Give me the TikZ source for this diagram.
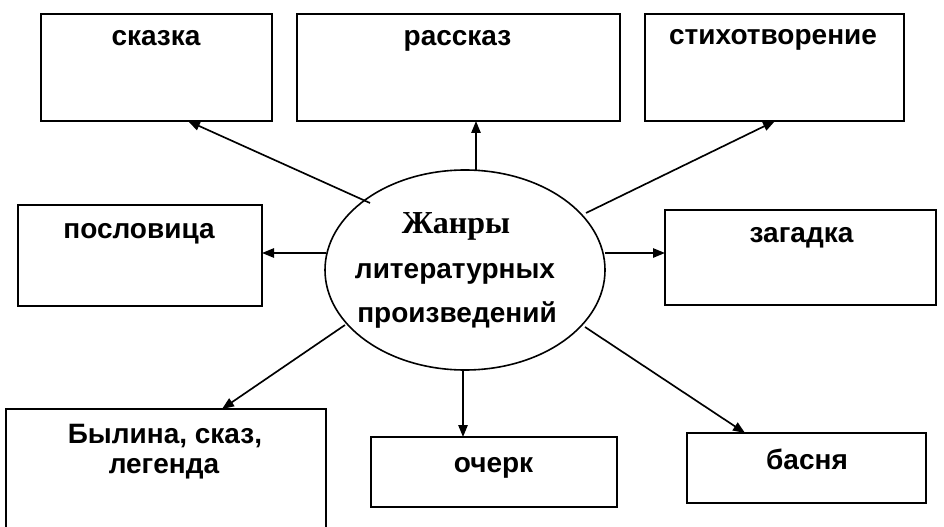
\documentclass[tikz,border=0pt]{standalone}
\usepackage{fontspec}
\setmainfont{Liberation Serif}
\newfontfamily\arialf{Liberation Sans}
\usetikzlibrary{arrows.meta}
\tikzset{
  genrebox/.style={draw=black, line width=1.8pt, rectangle, inner sep=0pt},
  genretext/.style={font=\arialf\bfseries\fontsize{21}{23.5}\selectfont, anchor=base, inner sep=0pt},
  conn/.style={draw=black, line width=1.25pt, -{Triangle[length=9pt,width=7pt]}},
}
\begin{document}
\begin{tikzpicture}[x=0.75pt,y=-0.75pt]
\useasboundingbox (0,0) rectangle (944,527);
\fill[white] (0,0) rectangle (944,527);
% boxes
\node[genrebox, minimum width=231*0.75pt, minimum height=107*0.75pt] (skazka) at (156.5,67.5) {};
\node[genrebox, minimum width=323*0.75pt, minimum height=107*0.75pt] (rasskaz) at (458.5,67.5) {};
\node[genrebox, minimum width=259*0.75pt, minimum height=107*0.75pt] (stikh) at (774.5,67.5) {};
\node[genrebox, minimum width=244*0.75pt, minimum height=101*0.75pt] (posl) at (140,255.5) {};
\node[genrebox, minimum width=271*0.75pt, minimum height=95*0.75pt] (zagad) at (800.5,257.5) {};
\node[genrebox, minimum width=320*0.75pt, minimum height=124*0.75pt] (bylina) at (166,471) {};
\node[genrebox, minimum width=246*0.75pt, minimum height=70*0.75pt] (ocherk) at (494,472) {};
\node[genrebox, minimum width=239*0.75pt, minimum height=70*0.75pt] (basnya) at (806.5,468) {};
% texts
\node[genretext] (skazkaT) at (156,45.5) {сказка};
\node[genretext] (rasskazT) at (457.5,46) {рассказ};
\node[genretext] (stikhT) at (773,45) {стихотворение};
\node[genretext] (poslT) at (139,238) {пословица};
\node[genretext] (zagadT) at (801.5,242) {загадка};
\node[genretext] (bylinaT1) at (165,443) {Былина, сказ,};
\node[genretext] (bylinaT2) at (164,473) {легенда};
\node[genretext] (ocherkT) at (493.5,472) {очерк};
\node[genretext] (basnyaT) at (807,469) {басня};
% ellipse
\draw[line width=1.2pt] (465,270) ellipse [x radius=140, y radius=100];
\coordinate (ell) at (465,270);
\node[font=\bfseries\fontsize{24}{26}\selectfont, anchor=base, inner sep=0pt] (zhanry) at (456,233) {Жанры};
\node[font=\arialf\bfseries\fontsize{21}{23}\selectfont, anchor=base, inner sep=0pt] (lit) at (455,278) {литературных};
\node[font=\arialf\bfseries\fontsize{21}{23}\selectfont, anchor=base, inner sep=0pt] (proizv) at (457,322) {произведений};
% connector start points
\coordinate (s1) at (370,203);
\coordinate (s2) at (476,170);
\coordinate (s3) at (586,213);
\coordinate (s4) at (326,253);
\coordinate (s5) at (605,253);
\coordinate (s6) at (345,325);
\coordinate (s7) at (463,369);
\coordinate (s8) at (585,327);
% connector end points on boxes
\coordinate (t1) at (188,121);
\coordinate (t2) at (476,121);
\coordinate (t3) at (775,121);
\coordinate (t4) at (262,253);
\coordinate (t5) at (665,253);
\coordinate (t6) at (222,409);
\coordinate (t7) at (463,437);
\coordinate (t8) at (745,433);
\draw[conn] (s1) -- (t1);
\draw[conn] (s2) -- (t2);
\draw[conn] (s3) -- (t3);
\draw[conn] (s4) -- (t4);
\draw[conn] (s5) -- (t5);
\draw[conn] (s6) -- (t6);
\draw[conn] (s7) -- (t7);
\draw[conn] (s8) -- (t8);
\end{tikzpicture}
\end{document}
